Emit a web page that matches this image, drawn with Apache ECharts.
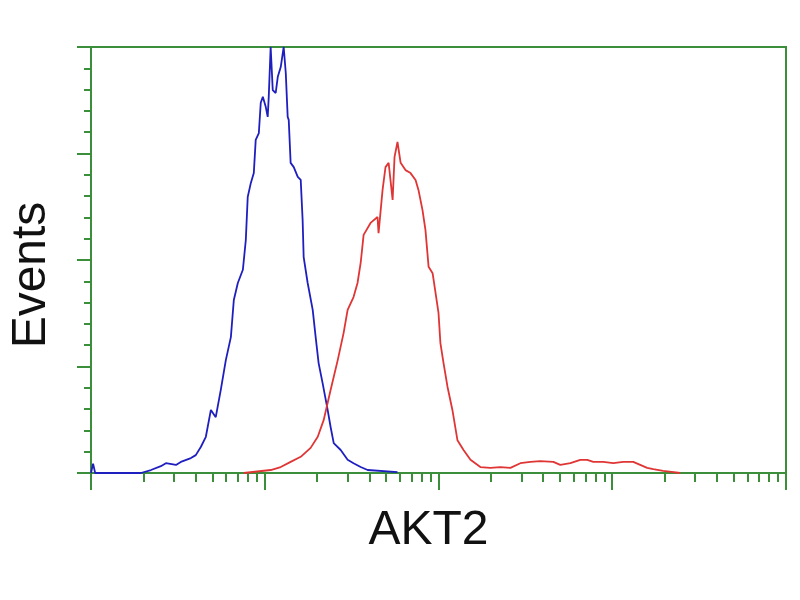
<!DOCTYPE html>
<html>
<head>
<meta charset="utf-8">
<script src="https://cdn.jsdelivr.net/npm/echarts@6/dist/echarts.min.js"></script>
<style>html,body{margin:0;padding:0;background:#fff}#c{width:800px;height:600px}</style>
</head>
<body>
<div id="c"></div>
<script>
// x positions in decades (log10 of fluorescence intensity), y in % of full scale
const blueLog = [0.000,0.012,0.024,0.287,0.345,0.402,0.431,0.489,0.517,0.575,0.603,0.632,0.661,0.690,0.718,0.747,0.776,0.805,0.822,0.845,0.874,0.891,0.902,0.920,0.937,0.948,0.966,0.977,0.989,1.006,1.017,1.023,1.034,1.046,1.063,1.075,1.092,1.109,1.121,1.132,1.138,1.149,1.167,1.190,1.207,1.218,1.224,1.247,1.276,1.293,1.310,1.333,1.362,1.379,1.397,1.437,1.477,1.511,1.552,1.592,1.764];
const blueCounts = [0,2.2,0,0,0.7,1.6,2.3,1.9,2.6,3.5,4.2,6.1,8.5,14.8,13.1,19.5,26.5,31.9,40.6,44.6,47.7,54.7,64.8,68.1,70.4,78.2,79.8,86.9,88.3,85.9,83.6,88.3,100,89.9,89.2,93.0,95.3,100,93.9,83.6,82.9,72.8,71.8,69.5,68.8,59.4,50.7,44.6,38.3,31.9,25.8,21.1,14.8,10.8,7.0,5.4,3.1,2.3,1.4,0.7,0.2];
const redLog = [0.879,1.034,1.092,1.149,1.207,1.264,1.305,1.339,1.379,1.420,1.454,1.477,1.511,1.534,1.552,1.569,1.609,1.649,1.655,1.678,1.695,1.713,1.736,1.747,1.764,1.782,1.810,1.839,1.868,1.885,1.908,1.925,1.943,1.966,1.983,2.000,2.011,2.029,2.052,2.080,2.109,2.144,2.184,2.241,2.299,2.356,2.414,2.471,2.529,2.586,2.661,2.701,2.759,2.816,2.856,2.891,2.948,3.006,3.063,3.121,3.161,3.201,3.236,3.293,3.391];
const redCounts = [0,0.7,1.4,2.6,3.8,5.9,8.5,12.4,19.5,26.5,32.9,38.3,41.3,44.6,49.3,55.9,58.7,60.1,56.3,66.4,71.8,72.8,64.1,74.2,77.7,72.8,71.1,70.4,68.8,66.4,61.7,57.0,48.4,46.9,42.3,37.6,30.5,25.8,20.2,14.8,7.7,5.4,3.1,1.4,1.2,1.4,1.2,2.3,2.6,2.8,2.6,1.9,2.3,3.1,3.1,2.6,2.6,2.3,2.6,2.6,1.9,1.2,0.9,0.5,0];
const majorTicks = [1, 10, 100, 1000, 10000];
const minorTicks = [2,3,4,5,6,7,8,9,20,30,40,50,60,70,80,90,200,300,400,500,600,700,800,900,2000,3000,4000,5000,6000,7000,8000,9000];
const xName = 'AKT2';
const yName = 'Events';

const green = '#3b8f3b';
const toPts = (xs, ys) => xs.map((d, i) => [Math.pow(10, d), ys[i]]);

const chart = echarts.init(document.getElementById('c'), null, {renderer: 'canvas'});
chart.setOption({
  backgroundColor: '#ffffff',
  animation: false,
  grid: {left: 89, right: 14, top: 47, bottom: 127, show: true, borderColor: green, borderWidth: 2, backgroundColor: '#fff'},
  xAxis: [{
    type: 'log', logBase: 10, min: 1, max: 10000,
    axisLine: {show: true, lineStyle: {color: green, width: 2}},
    axisTick: {show: true, customValues: majorTicks, length: 17, lineStyle: {color: green, width: 2}},
    axisLabel: {show: false},
    splitLine: {show: false},
    name: xName, nameLocation: 'middle', nameGap: 34,
    nameTextStyle: {fontFamily: 'Liberation Sans', fontSize: 48, color: '#111', padding: [0, 20, 0, 0]}
  }, {
    type: 'log', logBase: 10, min: 1, max: 10000, position: 'bottom',
    axisLine: {show: false},
    axisTick: {show: true, customValues: minorTicks, length: 9, lineStyle: {color: green, width: 2}},
    axisLabel: {show: false},
    splitLine: {show: false}
  }],
  yAxis: {
    type: 'value', min: 0, max: 100, interval: 25,
    axisLine: {show: true, lineStyle: {color: green, width: 2}},
    axisTick: {show: true, length: 14, lineStyle: {color: green, width: 2}},
    minorTick: {show: true, splitNumber: 5, length: 7, lineStyle: {color: green, width: 2}},
    axisLabel: {show: false},
    splitLine: {show: false},
    name: yName, nameLocation: 'middle', nameGap: 35, nameRotate: 90,
    nameTextStyle: {fontFamily: 'Liberation Sans', fontSize: 48, color: '#111', padding: [0, 30, 0, 0]}
  },
  series: [{
    type: 'line', data: toPts(blueLog, blueCounts), showSymbol: false, clip: true,
    lineStyle: {color: '#1f1fc0', width: 1.8}, itemStyle: {color: '#1f1fc0'}
  }, {
    type: 'line', data: toPts(redLog, redCounts), showSymbol: false, clip: true,
    lineStyle: {color: '#e03535', width: 1.8}, itemStyle: {color: '#e03535'}
  }]
});
</script>
</body>
</html>
